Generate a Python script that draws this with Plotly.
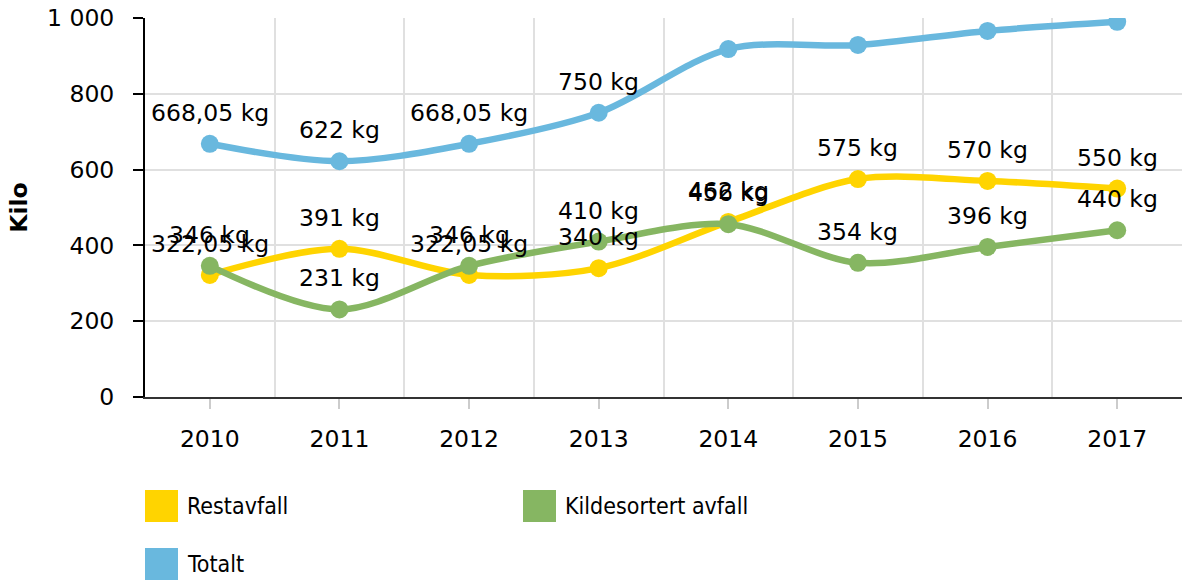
import plotly.graph_objects as go

years = [2010, 2011, 2012, 2013, 2014, 2015, 2016, 2017]
restavfall = [322.05, 391, 322.05, 340, 462, 575, 570, 550]
kildesortert = [346, 231, 346, 410, 456, 354, 396, 440]
totalt = [668.05, 622, 668.05, 750, 918, 929, 966, 990]
# Highcharts hid the Totalt labels that would fall outside the plot area
totalt_label_shown = [True, True, True, True, False, False, False, False]

series_names = ["Restavfall", "Kildesortert avfall", "Totalt"]
series_colors = ["#FFD400", "#86B662", "#69B8DE"]
y_ticks = [0, 200, 400, 600, 800, 1000]
y_tick_text = ["0", "200", "400", "600", "800", "1 000"]

FONT = "Verdana, DejaVu Sans, sans-serif"
FS = 23.5

W, H = 1183, 580
ML, MR, MT, MB = 145, 1, 18, 183
PW, PH = W - ML - MR, H - MT - MB


def fmt(v):
    s = f"{v:.2f}".rstrip("0").rstrip(".")
    return s.replace(".", ",") + " kg"


fig = go.Figure()
all_series = [restavfall, kildesortert, totalt]
for name, vals, col in zip(series_names, all_series, series_colors):
    fig.add_trace(go.Scatter(
        x=years, y=vals, name=name, mode="lines+markers",
        line=dict(color=col, width=6.5, shape="spline", smoothing=0.9),
        marker=dict(color=col, size=18),
        showlegend=False, hoverinfo="skip",
    ))

annotations = []
shows = [[True] * len(years), [True] * len(years), totalt_label_shown]
for vals, show in zip(all_series, shows):
    for x, v, s in zip(years, vals, show):
        if s:
            annotations.append(dict(
                x=x, y=v, xref="x", yref="y", text=fmt(v), showarrow=False,
                yshift=31, font=dict(family=FONT, size=FS, color="#000000"),
            ))

# legend drawn manually (large square symbols); positions in page pixels
legend_pos = [(145, 490), (523, 490), (145, 548)]
shapes = []
for (px, py), name, col in zip(legend_pos, series_names, series_colors):
    x0 = (px - ML) / PW
    x1 = (px + 33 - ML) / PW
    y0 = (H - MB - py) / PH
    y1 = (H - MB - (py + 32)) / PH
    shapes.append(dict(type="rect", xref="paper", yref="paper",
                       x0=x0, x1=x1, y0=y1, y1=y0,
                       fillcolor=col, line=dict(width=0)))
    annotations.append(dict(
        x=(px + 40 - ML) / PW, y=(H - MB - (py + 16)) / PH,
        xref="paper", yref="paper", xanchor="left", yanchor="middle",
        text=name, showarrow=False,
        font=dict(family="DejaVu Sans Condensed, Liberation Sans, sans-serif",
                  size=23, color="#000000"),
    ))

fig.update_layout(
    width=W, height=H,
    margin=dict(l=ML, r=MR, t=MT, b=MB),
    paper_bgcolor="white", plot_bgcolor="white",
    font=dict(family=FONT, size=FS, color="#000000"),
    showlegend=False,
    annotations=annotations,
    shapes=shapes,
    xaxis=dict(
        range=[2009.5, 2017.5], tickmode="array", tickvals=years,
        ticktext=[str(y) for y in years],
        showgrid=False, zeroline=False,
        showline=True, linecolor="#333333", linewidth=2,
        ticks="outside", ticklen=10, tickwidth=2, tickcolor="#CCCCCC",
        ticklabelstandoff=10,
        minor=dict(tick0=2009.5, dtick=1, showgrid=True,
                   gridcolor="#E0E0E0", gridwidth=2, ticks=""),
        tickfont=dict(family=FONT, size=FS, color="#000000"),
    ),
    yaxis=dict(
        range=[0, 1000], tickmode="array", tickvals=y_ticks,
        ticktext=y_tick_text,
        showgrid=True, gridcolor="#E0E0E0", gridwidth=2, zeroline=False,
        showline=True, linecolor="#000000", linewidth=2,
        ticks="outside", ticklen=10, tickwidth=2, tickcolor="#000000",
        ticklabelstandoff=14,
        tickfont=dict(family=FONT, size=FS, color="#000000"),
        title=dict(text="<b>Kilo</b>", standoff=13,
                   font=dict(family=FONT, size=FS, color="#000000")),
    ),
)

fig.write_html("out.html",
               config={"displayModeBar": False},
               post_script="document.body.style.margin='0';")
